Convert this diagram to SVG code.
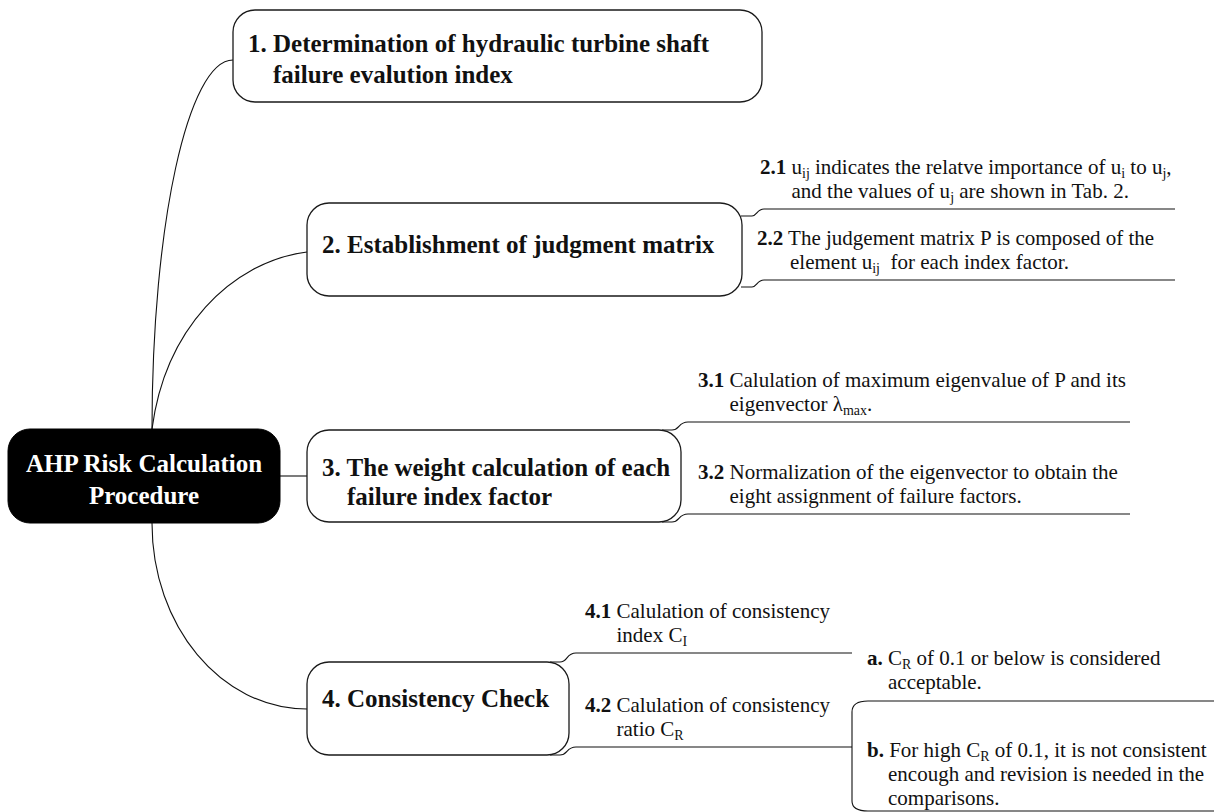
<svg xmlns="http://www.w3.org/2000/svg" width="1214" height="812" viewBox="0 0 1214 812">
<style>
.box{fill:#fff;stroke:#1a1a1a;stroke-width:1.3}
.root{fill:#000;stroke:#000;stroke-width:1}
.nt{font-size:25px;font-weight:bold;fill:#111}
.rt{font-size:25px;font-weight:bold;fill:#fff;text-anchor:middle}
.lt{font-size:21px;fill:#111;white-space:pre}
.b{font-weight:bold}
.sub{font-size:14px}
.conn{fill:none;stroke:#111;stroke-width:1.1}
</style>
<rect width="1214" height="812" fill="#fff"/>
<g id="connectors">
  <path class="conn" d="M152 429 C152 225 188 60 233 60"/>
  <path class="conn" d="M152 429 C165 330 230 262 307 252"/>
  <path class="conn" d="M280 476 H307"/>
  <path class="conn" d="M152 523 C152 626 221 709 307 709"/>
  <path class="conn" d="M741 216 H752 C757 216 757 209 764 209 H1175"/>
  <path class="conn" d="M741 287 H752 C757 287 757 280 764 280 H1175"/>
  <path class="conn" d="M662 430 H672 C680 430 678 422 688 422 H1130"/>
  <path class="conn" d="M662 522 H672 C680 522 678 514 688 514 H1130"/>
  <path class="conn" d="M550 662 H560 C568 662 566 653 576 653 H852"/>
  <path class="conn" d="M550 755 H560 C568 755 566 747 576 747 H852"/>
  <path class="conn" d="M852 747 V712 C852 704 858 701 868 701 H1214"/>
  <path class="conn" d="M852 747 V801 C852 808 858 811 868 811 H1214"/>
</g>
<g font-family="'Liberation Serif', 'Times New Roman', serif">
<g id="root">
  <rect class="root" x="8" y="429" width="272" height="94" rx="22"/>
  <text class="rt" font-family="Liberation Serif, serif" x="144" y="472">AHP Risk Calculation</text>
  <text class="rt" font-family="Liberation Serif, serif" x="144" y="504">Procedure</text>
</g>
<g id="n1">
  <rect class="box" x="233" y="10" width="529" height="92" rx="22"/>
  <text class="nt" font-family="Liberation Serif, serif" x="248" y="52">1. Determination of hydraulic turbine shaft</text>
  <text class="nt" font-family="Liberation Serif, serif" x="273" y="83">failure evalution index</text>
</g>
<g id="n2">
  <rect class="box" x="307" y="203" width="435" height="93" rx="22"/>
  <text class="nt" font-family="Liberation Serif, serif" x="322" y="253">2. Establishment of judgment matrix</text>
</g>
<g id="n3">
  <rect class="box" x="307" y="430" width="374" height="92" rx="22"/>
  <text class="nt" font-family="Liberation Serif, serif" x="322" y="476">3. The weight calculation of each</text>
  <text class="nt" font-family="Liberation Serif, serif" x="347" y="505">failure index factor</text>
</g>
<g id="n4">
  <rect class="box" x="307" y="662" width="262" height="93" rx="22"/>
  <text class="nt" font-family="Liberation Serif, serif" x="322" y="707">4. Consistency Check</text>
</g>
<g id="l21">
  <text class="lt" font-family="Liberation Serif, serif" x="760" y="174"><tspan class="b">2.1</tspan> u<tspan class="sub" dy="4">ij</tspan><tspan dy="-4"> indicates the relatve importance of u</tspan><tspan class="sub" dy="4">i</tspan><tspan dy="-4"> to u</tspan><tspan class="sub" dy="4">j</tspan><tspan dy="-4">,</tspan></text>
  <text class="lt" font-family="Liberation Serif, serif" x="791.5" y="198">and the values of u<tspan class="sub" dy="4">j</tspan><tspan dy="-4"> are shown in Tab. 2.</tspan></text>
</g>
<g id="l22">
  <text class="lt" font-family="Liberation Serif, serif" x="757" y="245"><tspan class="b">2.2</tspan> The judgement matrix P is composed of the</text>
  <text class="lt" font-family="Liberation Serif, serif" x="790" y="269">element u<tspan class="sub" dy="4">ij</tspan><tspan dy="-4">  for each index factor.</tspan></text>
</g>
<g id="l31">
  <text class="lt" font-family="Liberation Serif, serif" x="698" y="387"><tspan class="b">3.1</tspan> Calulation of maximum eigenvalue of P and its</text>
  <text class="lt" font-family="Liberation Serif, serif" x="729.5" y="411">eigenvector λ<tspan class="sub" dy="4">max</tspan><tspan dy="-4">.</tspan></text>
</g>
<g id="l32">
  <text class="lt" font-family="Liberation Serif, serif" x="698" y="479"><tspan class="b">3.2</tspan> Normalization of the eigenvector to obtain the</text>
  <text class="lt" font-family="Liberation Serif, serif" x="729.5" y="503">eight assignment of failure factors.</text>
</g>
<g id="l41">
  <text class="lt" font-family="Liberation Serif, serif" x="585" y="618"><tspan class="b">4.1</tspan> Calulation of consistency</text>
  <text class="lt" font-family="Liberation Serif, serif" x="616.5" y="642">index C<tspan class="sub" dy="4">I</tspan></text>
</g>
<g id="l42">
  <text class="lt" font-family="Liberation Serif, serif" x="585" y="712"><tspan class="b">4.2</tspan> Calulation of consistency</text>
  <text class="lt" font-family="Liberation Serif, serif" x="616.5" y="736">ratio C<tspan class="sub" dy="4">R</tspan></text>
</g>
<g id="la">
  <text class="lt" font-family="Liberation Serif, serif" x="867" y="665"><tspan class="b">a.</tspan> C<tspan class="sub" dy="4">R</tspan><tspan dy="-4"> of 0.1 or below is considered</tspan></text>
  <text class="lt" font-family="Liberation Serif, serif" x="888" y="689">acceptable.</text>
</g>
<g id="lb">
  <text class="lt" font-family="Liberation Serif, serif" x="867" y="757"><tspan class="b">b.</tspan> For high C<tspan class="sub" dy="4">R</tspan><tspan dy="-4"> of 0.1, it is not consistent</tspan></text>
  <text class="lt" font-family="Liberation Serif, serif" x="888" y="781">encough and revision is needed in the</text>
  <text class="lt" font-family="Liberation Serif, serif" x="888" y="805">comparisons.</text>
</g>
</g>
</svg>
